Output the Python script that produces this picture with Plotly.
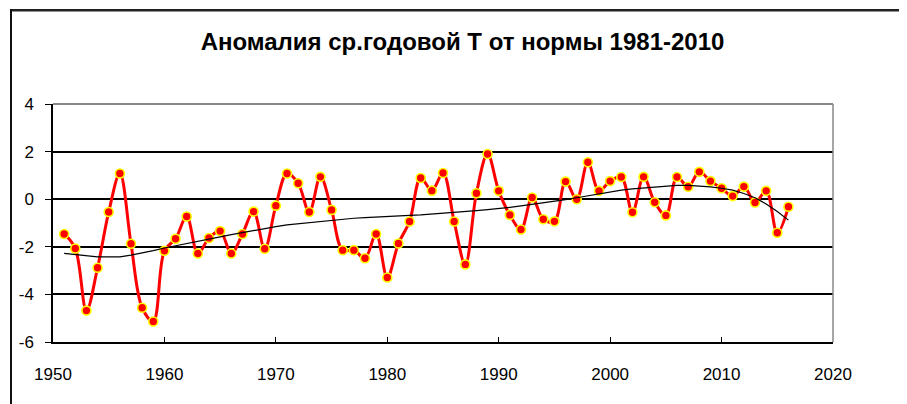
import plotly.graph_objects as go

years = list(range(1951, 2017))
anomaly = [
    -1.46, -2.07, -4.68, -2.88, -0.54, 1.08, -1.87, -4.56, -5.14, -2.17,
    -1.66, -0.73, -2.28, -1.63, -1.34, -2.28, -1.46, -0.52, -2.08, -0.27,
    1.08, 0.67, -0.54, 0.94, -0.45, -2.14, -2.14, -2.48, -1.46, -3.29,
    -1.86, -0.94, 0.89, 0.36, 1.10, -0.94, -2.74, 0.25, 1.90, 0.35,
    -0.66, -1.27, 0.07, -0.84, -0.93, 0.74, 0.00, 1.55, 0.35, 0.76,
    0.93, -0.55, 0.94, -0.13, -0.68, 0.93, 0.52, 1.15, 0.76, 0.46,
    0.13, 0.53, -0.14, 0.35, -1.41, -0.32,
]
trend = [
    -2.28, -2.33, -2.40, -2.42, -2.42, -2.42, -2.35, -2.27, -2.16, -2.05,
    -1.95, -1.86, -1.77, -1.68, -1.58, -1.49, -1.40, -1.31, -1.22, -1.15,
    -1.08, -1.03, -0.98, -0.93, -0.88, -0.84, -0.80, -0.77, -0.74, -0.72,
    -0.70, -0.68, -0.66, -0.63, -0.60, -0.56, -0.52, -0.48, -0.44, -0.40,
    -0.34, -0.28, -0.22, -0.15, -0.08, -0.02, 0.06, 0.14, 0.24, 0.32,
    0.38, 0.43, 0.47, 0.52, 0.56, 0.58, 0.58, 0.56, 0.52, 0.46,
    0.38, 0.24, 0.06, -0.20, -0.52, -0.88,
]
x_ticks = [1950, 1960, 1970, 1980, 1990, 2000, 2010, 2020]
y_ticks = [-6, -4, -2, 0, 2, 4]
title_text = "Аномалия ср.годовой Т от нормы 1981-2010"

FONT = "Liberation Sans, Arial, sans-serif"
OFF = 8  # page body margin

PL, PR, PT, PB = 53, 833, 104, 342  # desired plot area in window pixels
PW, PH = PR - PL, PB - PT


def px(x):
    return (x - PL) / PW


def py(y):
    return (PB - y) / PH


fig = go.Figure()
fig.add_trace(go.Scatter(
    x=years, y=anomaly, mode="lines+markers",
    line=dict(color="#FF0000", width=3, shape="spline", smoothing=1),
    marker=dict(size=9, color="#FF0000", line=dict(color="#FFFF00", width=1.6)),
    showlegend=False, hoverinfo="x+y",
))
fig.add_trace(go.Scatter(
    x=years, y=trend, mode="lines",
    line=dict(color="#000000", width=1.2),
    showlegend=False, hoverinfo="x+y",
))

fig.update_layout(
    width=907, height=404,
    margin=dict(l=PL - OFF, r=907 + OFF - PR, t=PT - OFF, b=404 + OFF - PB),
    paper_bgcolor="white", plot_bgcolor="white",
    font=dict(family=FONT, color="black", size=17),
    title=dict(text=f"<b>{title_text}</b>", font=dict(family=FONT, size=24, color="black"),
               xref="paper", x=px(462.5), xanchor="center",
               yref="container", y=1 - (42 - OFF) / 404, yanchor="middle"),
    xaxis=dict(range=[1950, 2020], tickvals=x_ticks, ticktext=[str(v) for v in x_ticks],
               showgrid=False, zeroline=False, showline=True, linecolor="black", linewidth=1.5,
               ticks="inside", ticklen=5, tickcolor="black", tickwidth=1,
               ticklabelstandoff=16, tickfont=dict(size=17)),
    yaxis=dict(range=[-6, 4], tickvals=y_ticks, ticktext=[str(v) for v in y_ticks],
               showgrid=True, gridcolor="black", gridwidth=1.5, zeroline=False,
               showline=True, linecolor="black", linewidth=1.5,
               ticks="outside", ticklen=6, tickcolor="black", tickwidth=1,
               ticklabelstandoff=8, tickfont=dict(size=17)),
    shapes=[
        dict(type="line", xref="paper", yref="paper", x0=0, x1=1, y0=1, y1=1,
             line=dict(color="#888888", width=2), layer="above"),
        dict(type="line", xref="paper", yref="paper", x0=1, x1=1, y0=0, y1=1,
             line=dict(color="#888888", width=1.5), layer="above"),
        dict(type="rect", xref="paper", yref="paper",
             x0=px(10), x1=px(940), y0=py(11.5), y1=py(9),
             fillcolor="#222222", line=dict(width=0), layer="above"),
        dict(type="rect", xref="paper", yref="paper",
             x0=px(10), x1=px(12), y0=py(9), y1=py(440),
             fillcolor="#111111", line=dict(width=0), layer="above"),
    ],
)

fig.write_html("out.html", config={"displayModeBar": False})
